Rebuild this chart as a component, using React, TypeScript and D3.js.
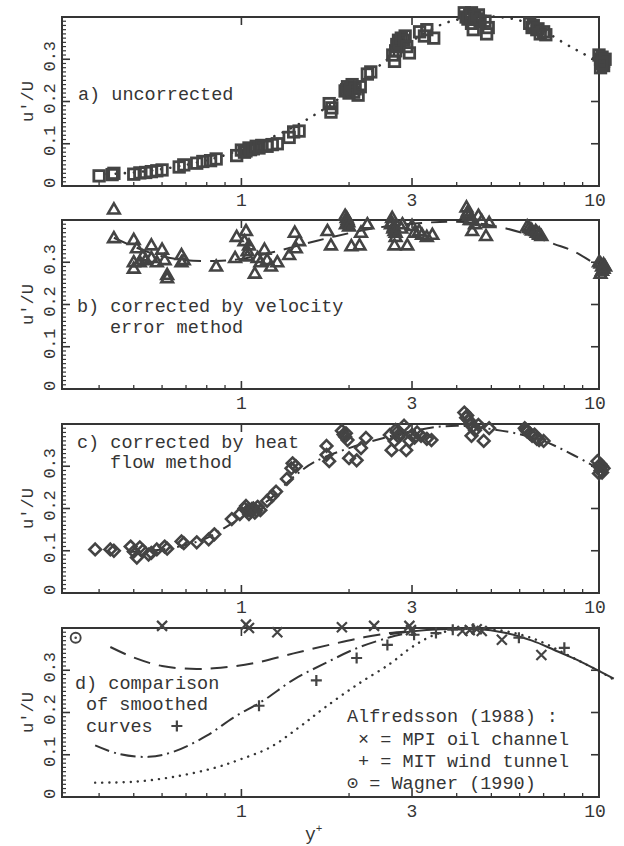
import React from 'react';
import * as d3 from 'd3';

type P = [number, number];

const xMajorTicks = [1, 3, 10];
const xTickLabels = ['1', '3', '10'];
const xMinorTicks = [0.4, 0.5, 0.6, 0.7, 0.8, 0.9, 2, 4, 5, 6, 7, 8, 9];
const yMajorTicks = [0, 0.1, 0.2, 0.3];
const yTickLabels = ['0', '0.1', '0.2', '0.3'];
const yAxisLabel = "u'/U";

const uncorrected: P[] = [
  [0.40, 0.024], [0.435, 0.027], [0.44, 0.03], [0.50, 0.028], [0.52, 0.031], [0.54, 0.032], [0.56, 0.034],
  [0.58, 0.036], [0.60, 0.038], [0.67, 0.045], [0.69, 0.05], [0.75, 0.054], [0.78, 0.058], [0.82, 0.06],
  [0.85, 0.064], [0.97, 0.072], [1.0, 0.085], [1.02, 0.08], [1.03, 0.083], [1.05, 0.09], [1.06, 0.086],
  [1.08, 0.088], [1.1, 0.094], [1.12, 0.09],
  [1.14, 0.096], [1.18, 0.094], [1.22, 0.098], [1.26, 0.1], [1.36, 0.115], [1.4, 0.128], [1.45, 0.13],
  [1.76, 0.195], [1.78, 0.175], [1.79, 0.185], [1.95, 0.225], [1.97, 0.228], [1.98, 0.235], [2.0, 0.22],
  [2.02, 0.232], [2.04, 0.24], [2.06, 0.222],
  [2.08, 0.23], [2.12, 0.215], [2.15, 0.235], [2.25, 0.265], [2.3, 0.27],
  [2.65, 0.31], [2.68, 0.295], [2.7, 0.32], [2.72, 0.335], [2.73, 0.33], [2.75, 0.345], [2.76, 0.34],
  [2.8, 0.35], [2.85, 0.345], [2.87, 0.355],
  [2.9, 0.33], [2.95, 0.315], [3.15, 0.365], [3.25, 0.355], [3.3, 0.37], [3.45, 0.35],
  [4.2, 0.41], [4.25, 0.4], [4.3, 0.395], [4.35, 0.405], [4.4, 0.385], [4.4, 0.41], [4.5, 0.4], [4.55, 0.395],
  [4.6, 0.405], [4.65, 0.39], [4.45, 0.37], [4.8, 0.39], [4.85, 0.36], [4.9, 0.375],
  [6.4, 0.385], [6.5, 0.375], [6.55, 0.38], [6.7, 0.37], [6.75, 0.372], [6.85, 0.36], [7.0, 0.365], [7.1, 0.358],
  [10.0, 0.31], [10.1, 0.3], [10.2, 0.305], [10.3, 0.295], [10.3, 0.285], [10.4, 0.3], [10.1, 0.28], [10.2, 0.29],
];
const uncorrectedFit: P[] = [
  [0.42, 0.028], [0.5, 0.032], [0.6, 0.04], [0.7, 0.05], [0.8, 0.061], [0.9, 0.073], [1.0, 0.087],
  [1.2, 0.113], [1.4, 0.14], [1.6, 0.168], [1.8, 0.196], [2.0, 0.226], [2.5, 0.293], [3.0, 0.343],
  [3.7, 0.385], [4.5, 0.4], [5.5, 0.398], [6.5, 0.382], [8, 0.338], [9, 0.314], [10, 0.295],
];

const velocityCorrected: P[] = [
  [0.44, 0.425], [0.44, 0.357], [0.50, 0.353], [0.51, 0.333], [0.50, 0.30], [0.50, 0.285], [0.52, 0.3],
  [0.53, 0.314], [0.54, 0.305], [0.56, 0.34], [0.56, 0.31], [0.58, 0.3], [0.60, 0.33], [0.61, 0.305],
  [0.62, 0.27], [0.62, 0.262], [0.68, 0.317], [0.68, 0.30], [0.69, 0.305], [0.85, 0.29], [0.96, 0.31],
  [0.97, 0.36], [1.03, 0.374], [1.02, 0.35], [1.04, 0.326], [1.05, 0.34], [1.04, 0.314], [1.09, 0.273],
  [1.11, 0.31], [1.13, 0.3], [1.16, 0.33], [1.18, 0.305], [1.21, 0.29], [1.26, 0.30], [1.36, 0.317],
  [1.41, 0.37], [1.42, 0.333], [1.45, 0.35],
  [1.74, 0.374], [1.78, 0.34], [1.95, 0.41], [1.96, 0.39], [1.97, 0.405], [1.98, 0.4], [1.99, 0.395],
  [2.0, 0.385], [2.03, 0.338], [2.14, 0.34], [2.16, 0.37], [2.25, 0.39],
  [2.62, 0.39], [2.63, 0.395], [2.64, 0.405], [2.66, 0.38], [2.67, 0.385], [2.68, 0.374], [2.7, 0.36],
  [2.7, 0.37], [2.68, 0.34], [2.8, 0.38],
  [2.82, 0.39], [2.91, 0.34], [3.0, 0.386], [3.05, 0.37], [3.14, 0.374], [3.2, 0.365], [3.3, 0.36], [3.42, 0.365],
  [4.26, 0.43], [4.28, 0.415], [4.3, 0.42], [4.33, 0.41], [4.35, 0.4], [4.4, 0.4], [4.42, 0.374], [4.5, 0.39],
  [4.6, 0.41], [4.7, 0.398], [4.83, 0.362], [4.93, 0.393],
  [6.3, 0.385], [6.37, 0.381], [6.45, 0.378], [6.5, 0.375], [6.65, 0.374], [6.7, 0.37], [6.8, 0.365],
  [6.8, 0.368], [6.9, 0.362],
  [10.0, 0.3], [10.1, 0.297], [10.2, 0.29], [10.3, 0.285], [10.3, 0.295], [10.1, 0.273], [10.4, 0.29], [10.2, 0.28],
];
const velocityFit: P[] = [
  [0.44, 0.358], [0.5, 0.337], [0.6, 0.314], [0.7, 0.305], [0.85, 0.303], [1.0, 0.308], [1.2, 0.322],
  [1.45, 0.34], [1.8, 0.36], [2.2, 0.376], [2.6, 0.386], [3.2, 0.393], [3.9, 0.396], [4.6, 0.392],
  [5.5, 0.38], [6.5, 0.362], [7.5, 0.343], [8.5, 0.326], [9.5, 0.302], [10.3, 0.285],
];

const heatCorrected: P[] = [
  [0.39, 0.103], [0.43, 0.103], [0.44, 0.1], [0.49, 0.11], [0.50, 0.098], [0.51, 0.084], [0.52, 0.108],
  [0.53, 0.1], [0.55, 0.091], [0.56, 0.095], [0.58, 0.103], [0.61, 0.11], [0.62, 0.105], [0.68, 0.122],
  [0.69, 0.118], [0.75, 0.12], [0.81, 0.127], [0.84, 0.139],
  [0.94, 0.175], [0.99, 0.187], [1.02, 0.2], [1.03, 0.206], [1.04, 0.195], [1.05, 0.187], [1.06, 0.195],
  [1.07, 0.199], [1.08, 0.2], [1.09, 0.19], [1.1, 0.195], [1.11, 0.204], [1.13, 0.196], [1.18, 0.218],
  [1.22, 0.23], [1.25, 0.24], [1.34, 0.27],
  [1.38, 0.295], [1.39, 0.307], [1.42, 0.30],
  [1.73, 0.348], [1.73, 0.327], [1.76, 0.312], [1.91, 0.384], [1.93, 0.375], [1.95, 0.37], [1.96, 0.378],
  [1.98, 0.362], [2.0, 0.319], [2.1, 0.314], [2.16, 0.343], [2.23, 0.367],
  [2.6, 0.374], [2.63, 0.338], [2.68, 0.36], [2.7, 0.386], [2.72, 0.38], [2.75, 0.37], [2.78, 0.378],
  [2.85, 0.396], [2.89, 0.338], [2.95, 0.36], [3.0, 0.374], [3.05, 0.368], [3.1, 0.38], [3.18, 0.372],
  [3.3, 0.365], [3.4, 0.362],
  [4.2, 0.427], [4.25, 0.415], [4.28, 0.42], [4.33, 0.408], [4.35, 0.4], [4.4, 0.372], [4.45, 0.395],
  [4.5, 0.385], [4.6, 0.398], [4.76, 0.36], [4.93, 0.39],
  [6.2, 0.39], [6.25, 0.386], [6.3, 0.382], [6.4, 0.378], [6.5, 0.372], [6.6, 0.375], [6.7, 0.365],
  [6.8, 0.362], [7.0, 0.36],
  [9.9, 0.312], [10.0, 0.3], [10.1, 0.305], [10.2, 0.30], [10.2, 0.285], [10.3, 0.295], [10.0, 0.283], [10.1, 0.29],
];
const heatFit: P[] = [
  [0.48, 0.097], [0.6, 0.103], [0.7, 0.114], [0.8, 0.13], [0.9, 0.155], [1.0, 0.178], [1.2, 0.222],
  [1.4, 0.275], [1.6, 0.31], [2.0, 0.343], [2.5, 0.367], [3.0, 0.383], [3.6, 0.394], [4.3, 0.395],
  [5.0, 0.388], [6.0, 0.376], [7.0, 0.36], [8.5, 0.326], [10.2, 0.29],
];

const mpiOil: P[] = [
  [0.60, 0.405], [1.03, 0.408], [1.05, 0.40], [1.26, 0.39], [1.91, 0.402], [2.35, 0.405], [2.95, 0.405],
  [2.98, 0.395], [4.15, 0.393], [4.35, 0.395], [4.55, 0.397], [4.7, 0.393], [5.35, 0.372], [6.9, 0.336],
];
const mitWind: P[] = [
  [0.66, 0.168], [1.12, 0.216], [1.62, 0.276], [2.1, 0.329], [2.56, 0.36], [3.04, 0.384], [3.5, 0.388],
  [3.9, 0.396], [4.45, 0.398], [5.97, 0.377], [8.0, 0.353],
];
const wagner: P[] = [[0.344, 0.377]];

const smoothVelocity: P[] = [
  [0.43, 0.355], [0.5, 0.33], [0.6, 0.31], [0.75, 0.303], [0.9, 0.307], [1.1, 0.318], [1.4, 0.34],
  [1.8, 0.362], [2.2, 0.378], [2.6, 0.388], [3.0, 0.393],
];
const smoothHeat: P[] = [
  [0.39, 0.122], [0.45, 0.103], [0.55, 0.095], [0.65, 0.108], [0.8, 0.145], [0.95, 0.188], [1.15, 0.228],
  [1.4, 0.278], [1.7, 0.315], [2.1, 0.352], [2.6, 0.378], [3.0, 0.39],
];
const smoothCommon: P[] = [
  [2.6, 0.385], [3.0, 0.392], [3.6, 0.397], [4.5, 0.398], [5.5, 0.388], [6.5, 0.37], [7.5, 0.348],
  [8.5, 0.328], [9.5, 0.308], [11.0, 0.28],
];
const smoothUncorrected: P[] = [
  [0.39, 0.034], [0.5, 0.036], [0.65, 0.048], [0.85, 0.07], [1.0, 0.09], [1.2, 0.117], [1.45, 0.165],
  [1.7, 0.21], [2.1, 0.265], [2.6, 0.315], [3.0, 0.355], [3.5, 0.385], [4.2, 0.398], [5.0, 0.397],
  [6.0, 0.385], [7.0, 0.365], [8.0, 0.34], [9.0, 0.318], [10.0, 0.298], [11.0, 0.278],
];

const labelA = ['a) uncorrected'];
const labelB = ['b) corrected by velocity', 'error method'];
const labelC = ['c) corrected by heat', 'flow method'];
const labelD = ['d) comparison', 'of smoothed', 'curves'];
const legendLines = ['Alfredsson (1988) :', ' \u00d7 = MPI oil channel', ' + = MIT wind tunnel', '\u2299 = Wagner (1990)'];
const xAxisLabel = 'y';

const FONT = "'Liberation Mono', 'DejaVu Sans Mono', monospace";
const INK = '#353535';
const MARK = '#444444';

export default function App() {
  const W = 624, H = 846;
  const x = d3.scaleLog().domain([0.315, 10]).range([62, 599]);
  const ph = 169;
  const tops = [17, 220, 424, 628];
  const ys = tops.map(t => d3.scaleLinear().domain([0, 0.4]).range([t + ph, t]));
  const mkLine = (y: d3.ScaleLinear<number, number>) =>
    d3.line<P>().x(d => x(d[0])).y(d => y(d[1])).curve(d3.curveCatmullRom.alpha(0.5));

  const frame = (y: d3.ScaleLinear<number, number>, key: number) => {
    const [yb, yt] = y.range();
    const [xl, xr] = x.range();
    const minorY = d3.range(1, 40).map(i => i / 100).filter(v => Math.abs(v * 10 - Math.round(v * 10)) > 1e-6);
    return (
      <g key={'f' + key}>
        <rect x={xl} y={yt} width={xr - xl} height={yb - yt} fill="none" stroke={INK} strokeWidth={2} />
        {yMajorTicks.map(v => (
          <line key={'ml' + v} x1={xl} x2={xl + 8} y1={y(v)} y2={y(v)} stroke={INK} strokeWidth={1.6} />
        ))}
        {minorY.map(v => (
          <line key={'nl' + v} x1={xl} x2={xl + 4} y1={y(v)} y2={y(v)} stroke={INK} strokeWidth={1.2} />
        ))}
        {yMajorTicks.filter(v => v > 0).map(v => (
          <line key={'mr' + v} x1={xr} x2={xr - 8} y1={y(v)} y2={y(v)} stroke={INK} strokeWidth={1.6} />
        ))}
        {xMajorTicks.filter(v => v < 10).map(v => (
          <g key={'xm' + v}>
            <line x1={x(v)} x2={x(v)} y1={yb} y2={yb - 8} stroke={INK} strokeWidth={1.6} />
            <line x1={x(v)} x2={x(v)} y1={yt} y2={yt + 8} stroke={INK} strokeWidth={1.6} />
          </g>
        ))}
        {xMinorTicks.map(v => (
          <line key={'xn' + v} x1={x(v)} x2={x(v)} y1={yb} y2={yb - 4} stroke={INK} strokeWidth={1.3} />
        ))}
        {xMajorTicks.map((v, i) => (
          <text key={'xl' + v} x={x(v) - (v === 10 ? 4 : 0)} y={yb + 20} textAnchor="middle" fontFamily={FONT}
            fontSize={18} fill={INK}>{xTickLabels[i]}</text>
        ))}
        {yMajorTicks.map((v, i) => (
          <text key={'yl' + v} transform={`translate(55,${y(v) - 3}) rotate(-90)`} textAnchor="middle"
            fontFamily={FONT} fontSize={17} fill={INK}>{yTickLabels[i]}</text>
        ))}
        <text transform={`translate(33,${(yb + yt) / 2}) rotate(-90)`} textAnchor="middle" fontFamily={FONT}
          fontSize={17} fill={INK}>{yAxisLabel}</text>
      </g>
    );
  };

  const square = (d: P, y: d3.ScaleLinear<number, number>, i: number) => (
    <rect key={i} x={x(d[0]) - 5.25} y={y(d[1]) - 5.25} width={10.5} height={10.5} fill="none" stroke={MARK}
      strokeWidth={2.8} />
  );
  const triangle = (d: P, y: d3.ScaleLinear<number, number>, i: number) => (
    <path key={i} transform={`translate(${x(d[0])},${y(d[1])})`} d="M0,-6L5.8,4L-5.8,4Z" fill="none" stroke={MARK}
      strokeWidth={2.6} strokeLinejoin="miter" />
  );
  const diamond = (d: P, y: d3.ScaleLinear<number, number>, i: number) => (
    <path key={i} transform={`translate(${x(d[0])},${y(d[1])})`} d="M0,-5.8L5.8,0L0,5.8L-5.8,0Z" fill="none"
      stroke={MARK} strokeWidth={2.6} />
  );
  const cross = (d: P, y: d3.ScaleLinear<number, number>, i: number) => (
    <path key={i} transform={`translate(${x(d[0])},${y(d[1])})`} d="M-5,-5L5,5M-5,5L5,-5" fill="none" stroke={MARK}
      strokeWidth={2.2} />
  );
  const plus = (d: P, y: d3.ScaleLinear<number, number>, i: number) => (
    <path key={i} transform={`translate(${x(d[0])},${y(d[1])})`} d="M-5.5,0L5.5,0M0,-5.5L0,5.5" fill="none"
      stroke={MARK} strokeWidth={2.2} />
  );
  const odot = (d: P, y: d3.ScaleLinear<number, number>, i: number) => (
    <g key={i} transform={`translate(${x(d[0])},${y(d[1])})`}>
      <circle r={5} fill="none" stroke={MARK} strokeWidth={1.9} />
      <circle r={1.3} fill={MARK} />
    </g>
  );

  const lineStyle = { fill: 'none', stroke: INK };
  const [ya, yb, yc, yd] = ys;

  const textLines = (lines: string[], xs: number[], bases: number[]) =>
    lines.map((s, i) => (
      <text key={s} x={xs[i]} y={bases[i]} fontFamily={FONT} fontSize={18.5} fill={INK} style={{ whiteSpace: 'pre' }}>
        {s}
      </text>
    ));

  return (
    <svg width={W} height={H} style={{ position: 'absolute', left: 0, top: 0, background: '#fff' }}>
      <rect width={W} height={H} fill="#fff" />
      {ys.map((y, i) => frame(y, i))}

      {/* panel a */}
      <path d={mkLine(ya)(uncorrectedFit) || ''} {...lineStyle} strokeWidth={2.6} strokeDasharray="0.1 9"
        strokeLinecap="round" />
      {uncorrected.map((d, i) => square(d, ya, i))}
      {textLines(labelA, [78], [100])}

      {/* panel b */}
      <path d={mkLine(yb)(velocityFit) || ''} {...lineStyle} strokeWidth={2} strokeDasharray="16 9" />
      {velocityCorrected.map((d, i) => triangle(d, yb, i))}
      {textLines(labelB, [77, 110], [312, 333])}

      {/* panel c */}
      <path d={mkLine(yc)(heatFit) || ''} {...lineStyle} strokeWidth={2} strokeDasharray="13 5 2 5" />
      {heatCorrected.map((d, i) => diamond(d, yc, i))}
      {textLines(labelC, [77, 110], [448, 468])}

      {/* panel d */}
      <path d={mkLine(yd)(smoothUncorrected) || ''} {...lineStyle} strokeWidth={2.4} strokeDasharray="0.1 7"
        strokeLinecap="round" />
      <path d={mkLine(yd)(smoothVelocity) || ''} {...lineStyle} strokeWidth={2} strokeDasharray="17 9" />
      <path d={mkLine(yd)(smoothHeat) || ''} {...lineStyle} strokeWidth={2} strokeDasharray="15 5 2 5" />
      <path d={mkLine(yd)(smoothCommon) || ''} {...lineStyle} strokeWidth={2} />
      {mpiOil.map((d, i) => cross(d, yd, i))}
      {mitWind.map((d, i) => plus(d, yd, i))}
      {wagner.map((d, i) => odot(d, yd, i))}
      {textLines(labelD, [75, 86, 86], [689, 710, 732])}
      {textLines(legendLines, [347, 347, 347, 347], [722, 745, 767, 789])}

      <text x={305} y={840} fontFamily={FONT} fontSize={18} fill={INK}>
        {xAxisLabel}
        <tspan dy={-8} fontSize={11}>+</tspan>
      </text>
    </svg>
  );
}
